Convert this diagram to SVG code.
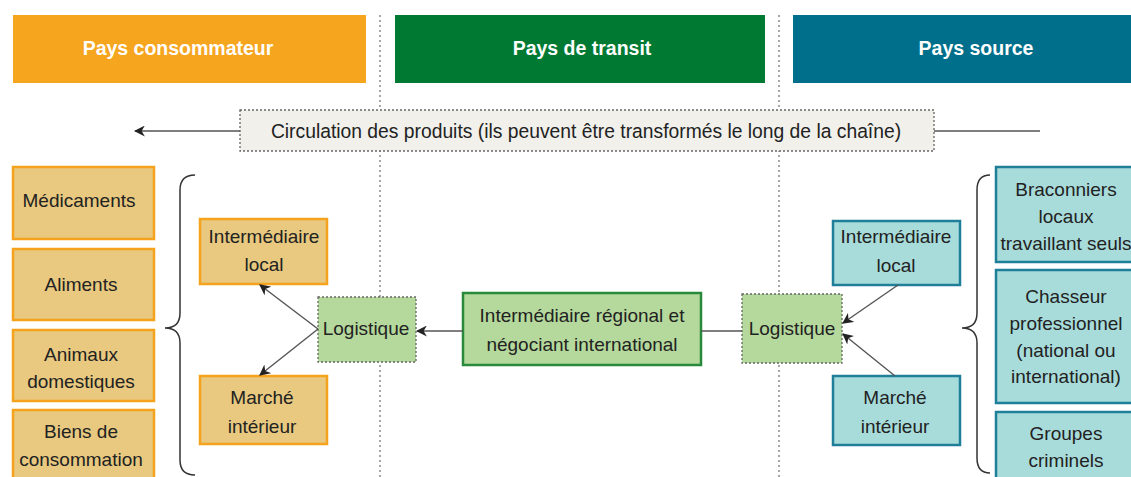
<svg xmlns="http://www.w3.org/2000/svg" width="1131" height="477" viewBox="0 0 1131 477">
  <style>
    text { font-family: "Liberation Sans", Arial, sans-serif; fill: #222; text-anchor: middle; }
    .hdr { font-size: 19.5px; font-weight: bold; fill: #fff; }
    .lbl { font-size: 19px; }
    .circ { font-size: 19.3px; }
    .cons { fill: #e8c97f; stroke: #f5a21c; stroke-width: 2.5; }
    .src { fill: #a8dcdb; stroke: #1f7e98; stroke-width: 2.5; }
    .logi { fill: #b5d99c; stroke: #666; stroke-width: 1.3; stroke-dasharray: 2 2; }
    .reg { fill: #b5d99c; stroke: #2a8a3c; stroke-width: 2.5; }
    .sep { stroke: #777; stroke-width: 1.3; stroke-dasharray: 2 3; fill: none; }
    .edge { stroke: #555; stroke-width: 1.4; fill: none; }
    .brace { stroke: #333; stroke-width: 1.5; fill: none; }
  </style>
  <defs>
    <marker id="arrow" viewBox="0 0 10 10" refX="9" refY="5" markerWidth="11" markerHeight="11" markerUnits="userSpaceOnUse" orient="auto">
      <path d="M0,0 L10,5 L0,10 L3,5 z" fill="#222"/>
    </marker>
  </defs>

  <rect width="1131" height="477" fill="#fff"/>

  <!-- column separators -->
  <g id="separators">
    <line class="sep" x1="380" y1="15" x2="380" y2="477"/>
    <line class="sep" x1="779" y1="15" x2="779" y2="477"/>
  </g>

  <!-- column headers -->
  <g id="header-consommateur">
    <rect x="13" y="15" width="353" height="68" fill="#f6a51f"/>
    <text class="hdr" x="178" y="55">Pays consommateur</text>
  </g>
  <g id="header-transit">
    <rect x="395" y="15" width="370" height="68" fill="#007a33"/>
    <text class="hdr" x="582" y="55">Pays de transit</text>
  </g>
  <g id="header-source">
    <rect x="793" y="15" width="345" height="68" fill="#006f8b"/>
    <text class="hdr" x="976" y="55">Pays source</text>
  </g>

  <!-- product flow banner -->
  <g id="circulation">
    <rect x="240" y="110" width="694" height="41" fill="#f1f0eb" stroke="#666" stroke-width="1.3" stroke-dasharray="2 2"/>
    <text class="circ" x="586" y="138">Circulation des produits (ils peuvent être transformés le long de la chaîne)</text>
  </g>

  <!-- consumer products -->
  <g id="medicaments">
    <rect class="cons" x="13" y="167" width="141" height="72"/>
    <text class="lbl" x="79" y="207">Médicaments</text>
  </g>
  <g id="aliments">
    <rect class="cons" x="13" y="249" width="141" height="71"/>
    <text class="lbl" x="81" y="291">Aliments</text>
  </g>
  <g id="animaux">
    <rect class="cons" x="13" y="330" width="141" height="71"/>
    <text class="lbl" x="81" y="361">Animaux</text>
    <text class="lbl" x="81" y="388">domestiques</text>
  </g>
  <g id="biens">
    <rect class="cons" x="13" y="410" width="141" height="75"/>
    <text class="lbl" x="81" y="438">Biens de</text>
    <text class="lbl" x="81" y="466">consommation</text>
  </g>

  <!-- consumer country chain -->
  <g id="interm-local-cons">
    <rect class="cons" x="200" y="219" width="127" height="65"/>
    <text class="lbl" x="264" y="243">Intermédiaire</text>
    <text class="lbl" x="264" y="271">local</text>
  </g>
  <g id="marche-cons">
    <rect class="cons" x="200" y="376" width="127" height="68"/>
    <text class="lbl" x="262" y="404">Marché</text>
    <text class="lbl" x="262" y="433">intérieur</text>
  </g>
  <g id="logistique-cons">
    <rect class="logi" x="318" y="297" width="98" height="65"/>
    <text class="lbl" x="366" y="335">Logistique</text>
  </g>

  <!-- transit -->
  <g id="intermediaire-regional">
    <rect class="reg" x="463" y="293" width="238" height="72"/>
    <text class="lbl" x="582" y="322">Intermédiaire régional et</text>
    <text class="lbl" x="582" y="351">négociant international</text>
  </g>

  <!-- source country chain -->
  <g id="logistique-src">
    <rect class="logi" x="742" y="294" width="100" height="69"/>
    <text class="lbl" x="792" y="335">Logistique</text>
  </g>
  <g id="interm-local-src">
    <rect class="src" x="833" y="221" width="127" height="64"/>
    <text class="lbl" x="896" y="243">Intermédiaire</text>
    <text class="lbl" x="896" y="272">local</text>
  </g>
  <g id="marche-src">
    <rect class="src" x="833" y="376" width="127" height="69"/>
    <text class="lbl" x="895" y="404">Marché</text>
    <text class="lbl" x="895" y="433">intérieur</text>
  </g>

  <!-- supplier groups -->
  <g id="braconniers">
    <rect class="src" x="996" y="167" width="145" height="95"/>
    <text class="lbl" x="1066" y="196">Braconniers</text>
    <text class="lbl" x="1066" y="223">locaux</text>
    <text class="lbl" x="1066" y="250">travaillant seuls</text>
  </g>
  <g id="chasseur">
    <rect class="src" x="996" y="270" width="145" height="133"/>
    <text class="lbl" x="1066" y="303">Chasseur</text>
    <text class="lbl" x="1066" y="330">professionnel</text>
    <text class="lbl" x="1066" y="357">(national ou</text>
    <text class="lbl" x="1066" y="383">international)</text>
  </g>
  <g id="groupes">
    <rect class="src" x="996" y="412" width="145" height="75"/>
    <text class="lbl" x="1066" y="440">Groupes</text>
    <text class="lbl" x="1066" y="467">criminels</text>
  </g>

  <!-- connectors -->
  <g id="connectors">
    <line class="edge" x1="240" y1="131" x2="135" y2="131" marker-end="url(#arrow)"/>
    <line class="edge" x1="934" y1="131" x2="1040" y2="131"/>
    <line class="edge" x1="463" y1="331" x2="417" y2="331" marker-end="url(#arrow)"/>
    <line class="edge" x1="701" y1="331" x2="742" y2="331"/>
    <line class="edge" x1="318" y1="329" x2="260" y2="285" marker-end="url(#arrow)"/>
    <line class="edge" x1="318" y1="329" x2="260" y2="375" marker-end="url(#arrow)"/>
    <line class="edge" x1="898" y1="285" x2="843" y2="323" marker-end="url(#arrow)"/>
    <line class="edge" x1="895" y1="376" x2="843" y2="334" marker-end="url(#arrow)"/>
    <path class="brace" d="M195,175 Q180,175 180,190 L180,313 Q180,328 165,328 Q180,328 180,343 L180,460 Q180,475 195,475"/>
    <path class="brace" d="M990,175 Q977,175 977,190 L977,313 Q977,328 962,328 Q977,328 977,343 L977,458 Q977,473 990,473"/>
  </g>
</svg>
